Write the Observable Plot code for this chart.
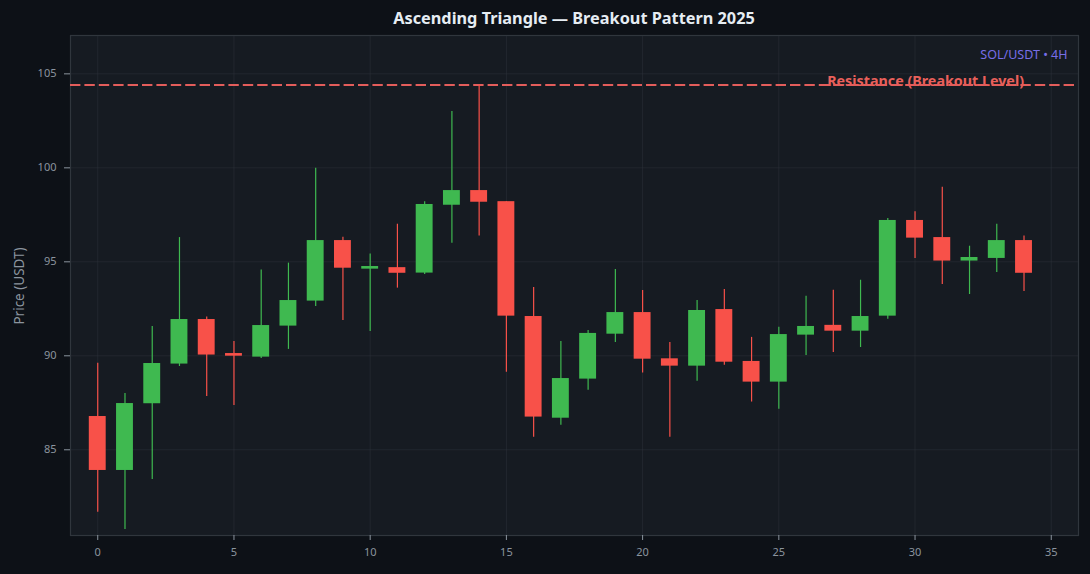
<!DOCTYPE html>
<html>
<head>
<meta charset="utf-8">
<script src="https://cdn.jsdelivr.net/npm/d3@7"></script>
<script src="https://cdn.jsdelivr.net/npm/@observablehq/plot@0.6"></script>
<style>
  html, body { margin: 0; padding: 0; background: #0d1117; }
  #wrap { position: relative; width: 1090px; height: 574px; background: #0d1117; font-family: "Noto Sans", "Open Sans", sans-serif; }
  #title { position: absolute; left: 70px; width: 1008px; top: 7px; text-align: center; color: #e6edf3; font-weight: 700; font-size: 16.3px; }
  #ylabel { position: absolute; left: 19px; top: 286px; transform: translate(-50%, -50%) rotate(-90deg); color: #8b949e; font-size: 13.5px; white-space: nowrap; }
  svg { display: block; }
</style>
</head>
<body>
<div id="wrap">
  <div id="chart"></div>
  <div id="title">Ascending Triangle — Breakout Pattern 2025</div>
  <div id="ylabel">Price (USDT)</div>
</div>
<script>
// Candle data (index 0..34)
const opens  = [86.77, 83.90, 87.45, 89.56, 91.93, 90.12, 89.93, 91.58, 92.91, 96.13,
                94.61, 94.69, 94.40, 98.01, 98.79, 98.20, 92.09, 86.68, 88.76, 91.15,
                92.30, 89.84, 89.45, 92.46, 89.70, 88.60, 91.10, 91.62, 91.31, 92.11,
                97.20, 96.29, 95.04, 95.18, 96.13];
const highs  = [89.61, 88.00, 91.56, 96.29, 92.06, 90.76, 94.56, 94.93, 99.98, 96.31,
                95.41, 97.00, 98.20, 103.00, 104.41, 98.20, 93.63, 90.76, 91.35, 94.59,
                93.48, 90.71, 92.94, 93.53, 90.98, 91.52, 93.17, 93.49, 94.02, 97.30,
                97.66, 98.97, 95.83, 97.00, 96.37];
const lows   = [81.68, 80.76, 83.42, 89.43, 87.84, 87.36, 89.86, 90.34, 92.62, 91.88,
                91.29, 93.60, 94.33, 95.99, 96.37, 89.13, 85.67, 86.31, 88.17, 90.71,
                89.08, 85.67, 88.65, 89.50, 87.54, 87.16, 90.02, 90.18, 90.44, 91.95,
                95.18, 93.79, 93.26, 94.43, 93.42];
const closes = [83.90, 87.46, 89.59, 91.93, 90.04, 89.98, 91.61, 92.94, 96.13, 94.66,
                94.75, 94.39, 98.05, 98.79, 98.17, 92.11, 86.74, 88.79, 91.19, 92.30,
                89.82, 89.45, 92.41, 89.66, 88.60, 91.13, 91.56, 91.31, 92.09, 97.20,
                96.26, 95.04, 95.23, 96.13, 94.39];
const resistance = 104.41;
const xTicks = [0, 5, 10, 15, 20, 25, 30, 35];
const yTicks = [85, 90, 95, 100, 105];
const resistanceLabel = "Resistance (Breakout Level)";
const pairLabel = "SOL/USDT • 4H";

const UP = "#3fb950", DOWN = "#f85149";
const candles = opens.map((o, i) => ({
  i, open: o, high: highs[i], low: lows[i], close: closes[i],
  color: closes[i] >= o ? UP : DOWN
}));
const halfBody = 0.31;

const chart = Plot.plot({
  width: 1090,
  height: 574,
  marginTop: 35,
  marginBottom: 39,
  marginLeft: 70,
  marginRight: 12,
  style: { background: "transparent", fontFamily: "'Noto Sans', 'Open Sans', sans-serif", fontSize: "11px", color: "#8b949e" },
  x: { domain: [-1, 36], ticks: xTicks },
  y: { domain: [80.44, 107.04], ticks: yTicks },
  marks: [
    Plot.frame({ fill: "#161b22", stroke: null }),
    Plot.gridX(xTicks, { stroke: "#30363d", strokeOpacity: 0.45 }),
    Plot.gridY(yTicks, { stroke: "#30363d", strokeOpacity: 0.45 }),
    Plot.frame({ stroke: "#30363d", strokeWidth: 1.2 }),
    Plot.axisX(xTicks, { tickSize: 5, tickPadding: 8, stroke: "#8b949e", fill: "#8b949e", label: null, fontSize: 11 }),
    Plot.axisY(yTicks, { tickSize: 6, tickPadding: 8, stroke: "#8b949e", fill: "#8b949e", label: null, fontSize: 11 }),
    Plot.text([resistanceLabel], {
      x: 34, y: resistance, text: d => d, textAnchor: "end", lineAnchor: "bottom", dy: 1.5,
      fill: "#ea605b", fontWeight: "bold", fontSize: 14.3
    }),
    Plot.ruleY([resistance], { stroke: "#e35d5b", strokeWidth: 2, strokeDasharray: "10.4,4" }),
    Plot.ruleX(candles, { x: "i", y1: "low", y2: "high", stroke: "color", strokeWidth: 1.2 }),
    Plot.rect(candles, {
      x1: d => d.i - halfBody, x2: d => d.i + halfBody,
      y1: "open", y2: "close", fill: "color", inset: 0
    }),
    Plot.text([pairLabel], {
      frameAnchor: "top-right", text: d => d, dx: -11, dy: 15,
      fill: "#786ee8", fontSize: 12.5
    })
  ]
});
document.getElementById("chart").appendChild(chart);
</script>
</body>
</html>
